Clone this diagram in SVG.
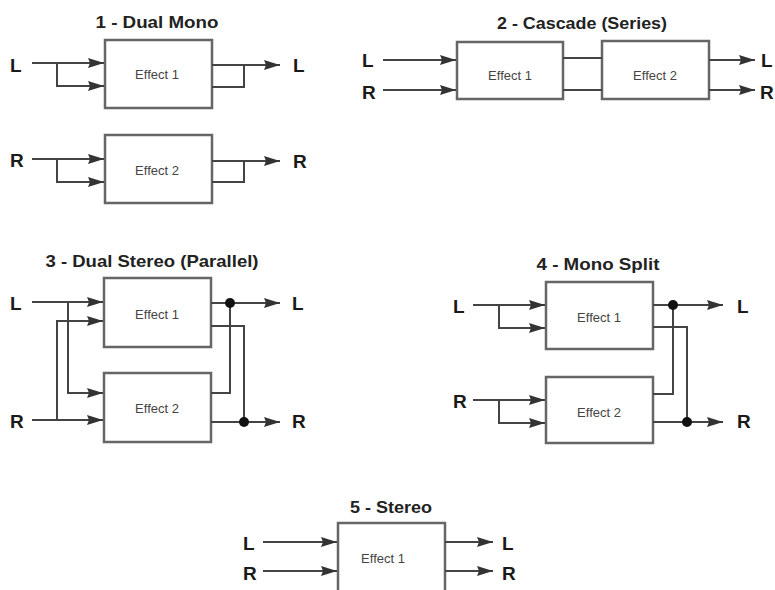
<svg xmlns="http://www.w3.org/2000/svg" width="775" height="590" viewBox="0 0 775 590">
<defs>
<marker id="arr" markerUnits="userSpaceOnUse" markerWidth="18" markerHeight="12" refX="16" refY="5" orient="auto">
<path d="M0,0 L16,5 L0,10 L2,5 Z" fill="#333"/>
</marker>
<style>
.box{fill:#fff;stroke:#666;stroke-width:2.5}
.w{fill:none;stroke:#444;stroke-width:2}
.a{marker-end:url(#arr)}
.t{font-family:"Liberation Sans",Arial,sans-serif;font-weight:bold;font-size:17px;fill:#222;text-anchor:middle}
.io{font-family:"Liberation Sans",Arial,sans-serif;font-weight:bold;font-size:19px;fill:#1a1a1a}
.fx{font-family:"Liberation Sans",Arial,sans-serif;font-size:13px;fill:#444;text-anchor:middle}
.dot{fill:#111}
</style>
</defs>
<rect width="775" height="590" fill="#fff"/>

<!-- 1 Dual Mono -->
<text class="t" x="157" y="28" textLength="123" lengthAdjust="spacingAndGlyphs">1 - Dual Mono</text>
<g id="dm-e1"><rect class="box" x="105" y="40" width="107" height="68"/><text class="fx" x="157" y="79">Effect 1</text></g>
<g id="dm-e2"><rect class="box" x="105" y="135" width="107" height="68"/><text class="fx" x="157" y="175">Effect 2</text></g>
<g id="dm-io">
<text class="io" x="10" y="72">L</text>
<text class="io" x="10" y="167">R</text>
<text class="io" x="293" y="72">L</text>
<text class="io" x="293" y="168">R</text>
</g>

<!-- 2 Cascade -->
<text class="t" x="582" y="29" textLength="170" lengthAdjust="spacingAndGlyphs">2 - Cascade (Series)</text>
<g id="cs-e1"><rect class="box" x="457" y="42" width="106" height="57"/><text class="fx" x="510" y="80">Effect 1</text></g>
<g id="cs-e2"><rect class="box" x="602" y="41" width="107" height="58"/><text class="fx" x="655" y="80">Effect 2</text></g>
<g id="cs-io">
<text class="io" x="362" y="67">L</text>
<text class="io" x="362" y="99">R</text>
<text class="io" x="761" y="67">L</text>
<text class="io" x="760" y="99">R</text>
</g>

<!-- 3 Dual Stereo -->
<text class="t" x="152" y="267" textLength="213" lengthAdjust="spacingAndGlyphs">3 - Dual Stereo (Parallel)</text>
<g id="ds-e1"><rect class="box" x="104" y="278" width="107" height="69"/><text class="fx" x="157" y="319">Effect 1</text></g>
<g id="ds-e2"><rect class="box" x="104" y="373" width="107" height="69"/><text class="fx" x="157" y="413">Effect 2</text></g>
<g id="ds-io">
<text class="io" x="10" y="310">L</text>
<text class="io" x="10" y="428">R</text>
<text class="io" x="292" y="310">L</text>
<text class="io" x="292" y="428">R</text>
</g>

<!-- 4 Mono Split -->
<text class="t" x="598" y="270" textLength="123" lengthAdjust="spacingAndGlyphs">4 - Mono Split</text>
<g id="ms-e1"><rect class="box" x="546" y="282" width="107" height="67"/><text class="fx" x="599" y="322">Effect 1</text></g>
<g id="ms-e2"><rect class="box" x="546" y="377" width="107" height="66"/><text class="fx" x="599" y="417">Effect 2</text></g>
<g id="ms-io">
<text class="io" x="453" y="313">L</text>
<text class="io" x="453" y="408">R</text>
<text class="io" x="737" y="313">L</text>
<text class="io" x="737" y="428">R</text>
</g>

<!-- 5 Stereo -->
<text class="t" x="391" y="513" textLength="82" lengthAdjust="spacingAndGlyphs">5 - Stereo</text>
<g id="st-e1"><rect class="box" x="338" y="523" width="107" height="80"/><text class="fx" x="383" y="563">Effect 1</text></g>
<g id="st-io">
<text class="io" x="243" y="550">L</text>
<text class="io" x="243" y="580">R</text>
<text class="io" x="502" y="550">L</text>
<text class="io" x="502" y="580">R</text>
</g>

<g id="connectors">
<!-- 1 -->
<path class="w a" d="M32,63 H104"/>
<path class="w a" d="M57,63 V86 H104"/>
<path class="w a" d="M212,65 H280"/>
<path class="w" d="M212,87 H244 V65"/>
<path class="w a" d="M32,159 H104"/>
<path class="w a" d="M57,159 V182 H104"/>
<path class="w a" d="M212,161 H280"/>
<path class="w" d="M212,182 H244 V161"/>
<!-- 2 -->
<path class="w a" d="M383,60 H456"/>
<path class="w a" d="M383,90 H456"/>
<path class="w" d="M563,58 H602"/>
<path class="w" d="M563,90 H602"/>
<path class="w a" d="M709,60 H755"/>
<path class="w a" d="M709,90 H755"/>
<!-- 3 -->
<path class="w a" d="M32,302 H103"/>
<path class="w a" d="M68,302 V393 H103"/>
<path class="w a" d="M32,420 H103"/>
<path class="w a" d="M57,420 V321 H103"/>
<path class="w a" d="M211,303 H280"/>
<path class="w" d="M211,393 H230 V303"/>
<path class="w" d="M211,326 H244 V422"/>
<path class="w a" d="M211,422 H280"/>
<circle class="dot" cx="230" cy="303" r="5"/>
<circle class="dot" cx="244" cy="422" r="5"/>
<!-- 4 -->
<path class="w a" d="M473,305 H545"/>
<path class="w a" d="M499,305 V328 H545"/>
<path class="w a" d="M473,400 H545"/>
<path class="w a" d="M499,400 V423 H545"/>
<path class="w a" d="M653,305 H723"/>
<path class="w" d="M653,394 H673 V305"/>
<path class="w" d="M653,327 H687 V422"/>
<path class="w a" d="M653,422 H723"/>
<circle class="dot" cx="673" cy="305" r="5"/>
<circle class="dot" cx="687" cy="422" r="5"/>
<!-- 5 -->
<path class="w a" d="M263,542 H337"/>
<path class="w a" d="M263,571 H337"/>
<path class="w a" d="M445,542 H493"/>
<path class="w a" d="M445,571 H493"/>
</g>
</svg>
